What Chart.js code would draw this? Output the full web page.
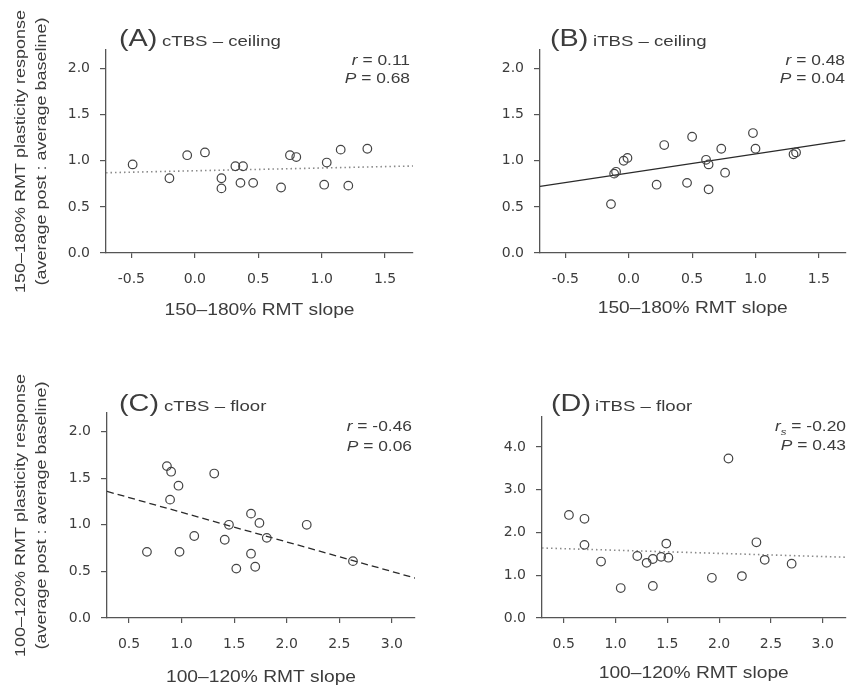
<!DOCTYPE html>
<html>
<head>
<meta charset="utf-8">
<script src="https://cdn.jsdelivr.net/npm/chart.js@4.4.1/dist/chart.umd.min.js"></script>
<style>
  html, body { margin: 0; padding: 0; background: #fff; }
  #wrap { position: relative; width: 851px; height: 689px; }
  canvas { position: absolute; }
</style>
</head>
<body>
<div id="wrap">
  <canvas id="panelA" width="425" height="330" style="left:0;top:0;width:425px;height:330px"></canvas>
  <canvas id="panelB" width="426" height="330" style="left:425px;top:0;width:426px;height:330px"></canvas>
  <canvas id="panelC" width="425" height="359" style="left:0;top:330px;width:425px;height:359px"></canvas>
  <canvas id="panelD" width="426" height="359" style="left:425px;top:330px;width:426px;height:359px"></canvas>
</div>
<script>
// ---- data ----
// (A) cTBS - ceiling
const aSlope = [-0.49, -0.20, -0.06, 0.08, 0.21, 0.21, 0.32, 0.38, 0.36, 0.46, 0.68, 0.75, 0.80, 1.04, 1.02, 1.15, 1.21, 1.36];
const aResp  = [0.96, 0.81, 1.06, 1.09, 0.81, 0.70, 0.94, 0.94, 0.76, 0.76, 0.71, 1.06, 1.04, 0.98, 0.74, 1.12, 0.73, 1.13];
const aFitX = [-0.7, 1.72];
const aFitY = [0.870, 0.943];

// (B) iTBS - ceiling
const bSlope = [-0.14, -0.115, -0.10, -0.04, -0.01, 0.22, 0.28, 0.46, 0.50, 0.61, 0.63, 0.63, 0.73, 0.76, 0.98, 1.00, 1.30, 1.32];
const bResp  = [0.53, 0.86, 0.88, 1.00, 1.03, 0.74, 1.17, 0.76, 1.26, 1.01, 0.96, 0.69, 1.13, 0.87, 1.30, 1.13, 1.07, 1.09];
const bFitX = [-0.7, 1.71];
const bFitY = [0.721, 1.221];

// (C) cTBS - floor
const cSlope = [0.67, 0.86, 0.90, 0.97, 0.89, 0.98, 1.12, 1.31, 1.41, 1.45, 1.52, 1.66, 1.74, 1.66, 1.70, 1.81, 2.19, 2.63];
const cResp  = [0.71, 1.63, 1.57, 1.42, 1.27, 0.71, 0.88, 1.55, 0.84, 1.00, 0.53, 1.12, 1.02, 0.69, 0.55, 0.86, 1.00, 0.61];
const cFitX = [0.29, 3.22];
const cFitY = [1.359, 0.429];

// (D) iTBS - floor
const dSlope = [0.55, 0.70, 0.70, 0.86, 1.05, 1.21, 1.30, 1.36, 1.36, 1.44, 1.49, 1.51, 1.93, 2.09, 2.22, 2.36, 2.44, 2.70];
const dResp  = [2.41, 2.32, 1.71, 1.32, 0.70, 1.45, 1.29, 1.38, 0.75, 1.43, 1.74, 1.41, 0.94, 3.73, 0.98, 1.77, 1.36, 1.27];
const dFitX = [0.29, 3.22];
const dFitY = [1.637, 1.421];

// ticks
const ceilXTicks = [-0.5, 0, 0.5, 1.0, 1.5];
const floorXTicks = [0.5, 1.0, 1.5, 2.0, 2.5, 3.0];
const respYTicks = [0, 0.5, 1.0, 1.5, 2.0];
const dYTicks = [0, 1, 2, 3, 4];

const TXT = '#3c3c3c';
const AXIS = '#555';
const SX = 1.2;   // the figure's font is wider than Arial
const FAM = "'Liberation Sans', Arial, sans-serif";

function pts(xs, ys) { return xs.map((x, i) => ({ x: x, y: ys[i] })); }

function wideText(ctx, str, x, y, size, align, italic) {
  ctx.save();
  ctx.font = (italic ? 'italic ' : '') + size + 'px ' + FAM;
  ctx.translate(x, y);
  ctx.scale(SX, 1);
  ctx.textAlign = align || 'left';
  ctx.fillText(str, 0, 0);
  ctx.restore();
}

function partsWidth(ctx, parts) {
  let w = 0;
  parts.forEach(p => {
    ctx.font = (p.it ? 'italic ' : '') + p.size + 'px ' + FAM;
    w += ctx.measureText(p.t).width * SX;
  });
  return w;
}

// right aligned rich text (italic r / P, subscript s)
function richRight(ctx, parts, right, y) {
  let x = right - partsWidth(ctx, parts);
  parts.forEach(p => {
    ctx.save();
    ctx.font = (p.it ? 'italic ' : '') + p.size + 'px ' + FAM;
    ctx.translate(x, y + (p.dy || 0));
    ctx.scale(SX, 1);
    ctx.textAlign = 'left';
    ctx.fillText(p.t, 0, 0);
    ctx.restore();
    ctx.font = (p.it ? 'italic ' : '') + p.size + 'px ' + FAM;
    x += ctx.measureText(p.t).width * SX;
  });
}

const panelText = {
  id: 'panelText',
  afterDraw(chart, args, o) {
    const ctx = chart.ctx;
    const area = chart.chartArea;
    ctx.save();
    ctx.fillStyle = TXT;
    ctx.textBaseline = 'alphabetic';
    wideText(ctx, o.letter, o.labelX, o.labelY, 24);
    wideText(ctx, o.sub, o.subX, o.labelY, 15.5);
    richRight(ctx, o.stat1, o.statX, o.statY1);
    richRight(ctx, o.stat2, o.statX, o.statY2);
    wideText(ctx, o.xTitle, (area.left + area.right) / 2, o.xTitleY, 16, 'center');
    if (o.yTitle) {
      const cy = (area.top + area.bottom) / 2;
      o.yTitle.forEach((line, i) => {
        ctx.save();
        ctx.translate(o.yTitleX[i], cy);
        ctx.rotate(-Math.PI / 2);
        ctx.scale(SX, 1);
        ctx.font = '15px ' + FAM;
        ctx.textAlign = 'center';
        ctx.textBaseline = 'middle';
        ctx.fillText(line, 0, 0);
        ctx.restore();
      });
    }
    ctx.restore();
  }
};

function makePanel(id, p) {
  const W = p.w, H = p.h, A = p.area;
  const fitDash = p.fitStyle === 'dot' ? [1.5, 3] : p.fitStyle === 'dash' ? [7, 4] : [];
  return new Chart(document.getElementById(id), {
    type: 'scatter',
    data: {
      datasets: [
        {
          data: pts(p.xs, p.ys),
          pointStyle: 'circle',
          pointRadius: 4.3,
          pointBorderWidth: 1.2,
          pointBorderColor: '#444',
          pointBackgroundColor: 'rgba(0,0,0,0)'
        },
        {
          type: 'line',
          data: pts(p.fitX, p.fitY),
          showLine: true,
          pointRadius: 0,
          borderColor: p.fitStyle === 'dot' ? '#8a8a8a' : '#2a2a2a',
          borderWidth: p.fitStyle === 'dot' ? 1.6 : 1.3,
          borderDash: fitDash,
          fill: false
        }
      ]
    },
    options: {
      responsive: false,
      animation: false,
      events: [],
      layout: { padding: { left: 0, top: A.top, right: W - A.right, bottom: 0 } },
      plugins: {
        legend: { display: false },
        tooltip: { enabled: false },
        panelText: p.text
      },
      scales: {
        x: {
          type: 'linear',
          min: p.xMin, max: p.xMax,
          afterFit(s) { s.height = H - A.bottom; },
          afterBuildTicks(s) { s.ticks = p.xTicks.map(v => ({ value: v })); },
          grid: { drawOnChartArea: false, drawTicks: true, tickLength: 5, color: AXIS, lineWidth: 1.2 },
          border: { display: true, color: AXIS, width: 1.3 },
          ticks: {
            padding: 13, color: TXT, autoSkip: false, maxRotation: 0,
            font: { family: "'DejaVu Sans', sans-serif", size: 14 },
            callback: v => v.toFixed(1)
          }
        },
        y: {
          type: 'linear',
          min: 0, max: p.yMax,
          afterFit(s) { s.width = A.left; },
          afterBuildTicks(s) { s.ticks = p.yTicks.map(v => ({ value: v })); },
          grid: { drawOnChartArea: false, drawTicks: true, tickLength: 6, color: AXIS, lineWidth: 1.2 },
          border: { display: true, color: AXIS, width: 1.3 },
          ticks: {
            padding: 10, color: TXT, autoSkip: false,
            font: { family: "'DejaVu Sans', sans-serif", size: 14 },
            callback: v => v.toFixed(1)
          }
        }
      }
    },
    plugins: [panelText]
  });
}

const ceilTitle = ['150\u2013180% RMT plasticity response', '(average post : average baseline)'];
const floorTitle = ['100\u2013120% RMT plasticity response', '(average post : average baseline)'];

function stat(r, pv, sub) {
  const s1 = [{ t: 'r', it: true, size: 14.5 }];
  if (sub) s1.push({ t: 's', it: true, size: 9.5, dy: 4 });
  s1.push({ t: ' = ' + r, size: 14.5 });
  const s2 = [{ t: 'P', it: true, size: 14.5 }, { t: ' = ' + pv, size: 14.5 }];
  return [s1, s2];
}

const sA = stat('0.11', '0.68');
makePanel('panelA', {
  w: 425, h: 330, area: { left: 106, top: 50, right: 413, bottom: 253 },
  xs: aSlope, ys: aResp, fitX: aFitX, fitY: aFitY, fitStyle: 'dot',
  xMin: -0.7, xMax: 1.72, yMax: 2.2, xTicks: ceilXTicks, yTicks: respYTicks,
  text: {
    letter: '(A)', sub: 'cTBS \u2013 ceiling', labelX: 119, subX: 162, labelY: 46,
    stat1: sA[0], stat2: sA[1], statX: 410, statY1: 65, statY2: 83,
    xTitle: '150\u2013180% RMT slope', xTitleY: 315,
    yTitle: ceilTitle, yTitleX: [21, 42]
  }
});

const sB = stat('0.48', '0.04');
makePanel('panelB', {
  w: 426, h: 330, area: { left: 115, top: 50, right: 423, bottom: 253 },
  xs: bSlope, ys: bResp, fitX: bFitX, fitY: bFitY, fitStyle: 'solid',
  xMin: -0.7, xMax: 1.71, yMax: 2.2, xTicks: ceilXTicks, yTicks: respYTicks,
  text: {
    letter: '(B)', sub: 'iTBS \u2013 ceiling', labelX: 125, subX: 168, labelY: 46,
    stat1: sB[0], stat2: sB[1], statX: 420, statY1: 65, statY2: 83,
    xTitle: '150\u2013180% RMT slope', xTitleY: 313
  }
});

const sC = stat('-0.46', '0.06');
makePanel('panelC', {
  w: 425, h: 359, area: { left: 107, top: 83, right: 415, bottom: 288 },
  xs: cSlope, ys: cResp, fitX: cFitX, fitY: cFitY, fitStyle: 'dash',
  xMin: 0.29, xMax: 3.22, yMax: 2.2, xTicks: floorXTicks, yTicks: respYTicks,
  text: {
    letter: '(C)', sub: 'cTBS \u2013 floor', labelX: 119, subX: 164, labelY: 81,
    stat1: sC[0], stat2: sC[1], statX: 412, statY1: 101, statY2: 121,
    xTitle: '100\u2013120% RMT slope', xTitleY: 352,
    yTitle: floorTitle, yTitleX: [21, 42]
  }
});

const sD = stat('-0.20', '0.43', true);
makePanel('panelD', {
  w: 426, h: 359, area: { left: 117, top: 87, right: 425, bottom: 288 },
  xs: dSlope, ys: dResp, fitX: dFitX, fitY: dFitY, fitStyle: 'dot',
  xMin: 0.29, xMax: 3.22, yMax: 4.7, xTicks: floorXTicks, yTicks: dYTicks,
  text: {
    letter: '(D)', sub: 'iTBS \u2013 floor', labelX: 126, subX: 170, labelY: 81,
    stat1: sD[0], stat2: sD[1], statX: 421, statY1: 101, statY2: 120,
    xTitle: '100\u2013120% RMT slope', xTitleY: 348
  }
});
</script>
</body>
</html>
